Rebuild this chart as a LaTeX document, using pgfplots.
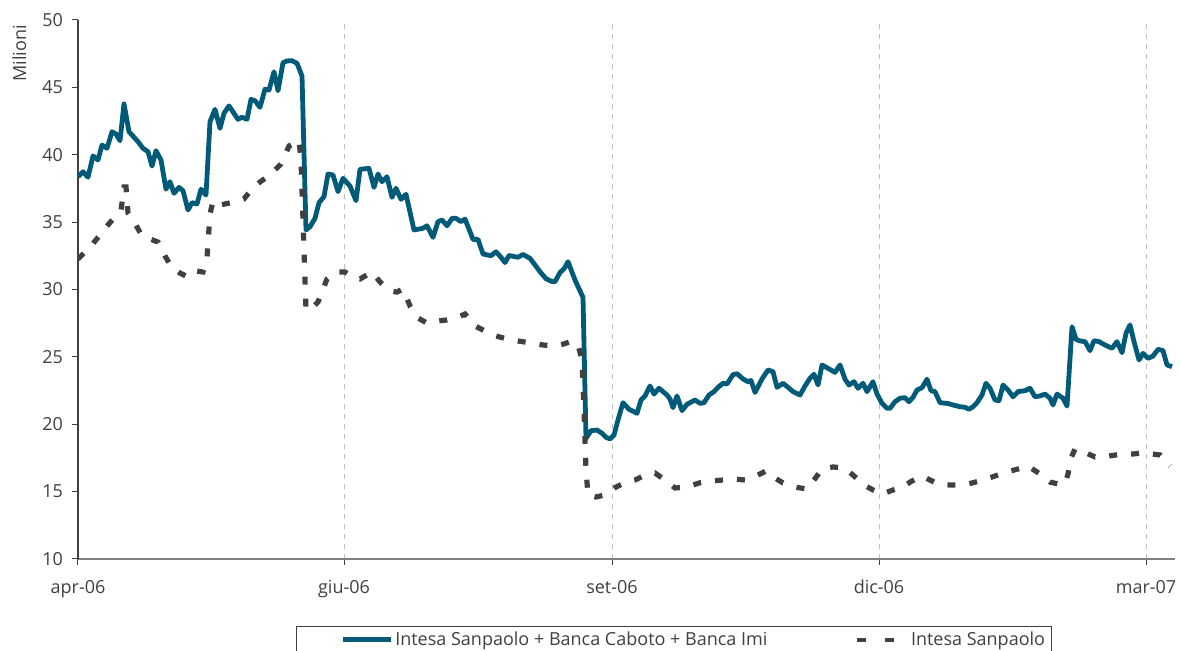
\documentclass[border=0pt]{standalone}
\usepackage{pgfplots}
\pgfplotsset{compat=1.18}
\usepackage{fontspec}
\setmainfont{Open Sans}
\definecolor{isblue}{RGB}{0,90,120}
\definecolor{isgray}{RGB}{64,64,64}
\definecolor{gridgray}{RGB}{191,191,191}

\pgfplotsset{
  legsolid/.style={legend image code/.code={\path (0pt,0pt); \draw[##1] (20pt,0pt) -- (44pt,0pt);}},
  legdash/.style={legend image code/.code={\draw[##1, line width=1.8pt, dash pattern=on 4.5pt off 9.5pt] (0pt,0pt) -- (20pt,0pt);}},
}

% x = trading-day position along the category axis
\pgfplotstableread{
x v
0 38.37
5 38.74
10 38.33
15 39.91
20 39.61
24 40.72
29 40.48
34 41.71
38 41.54
42 41.04
46 43.77
51 41.71
60 40.97
65 40.48
70 40.23
74 39.16
78 40.30
83 39.61
88 37.44
92 38.00
96 37.14
101 37.58
105 37.33
110 35.90
114 36.44
119 36.35
123 37.44
128 37.01
132 42.45
137 43.37
142 41.96
146 43.08
151 43.62
160 42.63
164 42.78
169 42.63
173 44.11
177 44.01
182 43.52
187 44.86
191 44.80
196 46.16
200 44.75
205 46.83
209 46.96
214 46.98
219 46.79
224 45.84
228 34.42
232 34.66
237 35.28
241 36.44
246 36.89
250 38.57
255 38.50
260 37.26
265 38.25
272 37.68
278 36.59
282 38.92
291 38.99
296 37.58
300 38.57
304 38.00
309 38.37
314 36.84
318 37.51
323 36.69
328 37.06
336 34.42
345 34.54
349 34.73
355 33.87
360 35.03
364 35.16
369 34.73
374 35.28
378 35.28
383 35.03
387 35.23
395 33.72
400 33.72
405 32.63
413 32.51
418 32.80
423 32.39
427 32.00
431 32.52
440 32.39
445 32.60
452 32.31
457 31.82
462 31.32
468 30.80
474 30.59
477 30.58
482 31.26
486 31.54
490 32.06
497 30.70
505 29.41
508 18.96
513 19.52
519 19.57
524 19.33
528 19.03
532 18.91
536 19.20
540 20.32
545 21.60
551 21.11
559 20.81
563 21.80
567 22.10
572 22.84
576 22.24
581 22.67
589 22.17
592 21.87
595 21.23
599 22.10
604 21.01
609 21.48
617 21.80
622 21.55
626 21.60
631 22.17
636 22.42
640 22.74
645 23.04
649 22.99
655 23.68
659 23.75
665 23.36
670 23.16
673 23.25
677 22.36
684 23.36
690 24.03
695 23.90
699 22.74
705 23.04
710 22.74
715 22.42
722 22.17
727 22.84
732 23.41
736 23.71
740 22.91
744 24.40
750 24.15
757 23.85
762 24.40
767 23.34
771 22.91
776 23.16
780 22.67
785 23.04
789 22.42
795 23.16
799 22.24
804 21.55
809 21.18
812 21.18
817 21.67
822 21.93
827 21.97
831 21.67
835 22.00
839 22.54
844 22.71
849 23.34
853 22.49
857 22.42
862 21.60
870 21.54
875 21.43
882 21.30
887 21.26
891 21.11
895 21.30
899 21.60
904 22.17
908 23.04
912 22.67
917 21.80
921 21.75
925 22.91
930 22.54
935 22.04
940 22.42
947 22.49
952 22.67
957 22.04
962 22.10
967 22.24
972 21.93
975 21.43
979 22.24
985 21.93
989 21.35
994 27.24
998 26.30
1002 26.18
1007 26.13
1012 25.46
1016 26.20
1021 26.13
1027 25.88
1034 25.64
1039 26.13
1044 25.31
1048 26.75
1052 27.37
1056 26.13
1061 24.77
1065 25.26
1070 24.89
1075 25.06
1080 25.56
1085 25.46
1089 24.40
1094 24.27
}\gruppo

\pgfplotstableread{
x v
0 32.26
12 33.15
22 34.04
29 34.71
36 35.31
43 35.83
46 37.61
48 37.61
50 35.68
54 35.31
64 33.97
72 33.75
80 33.52
87 32.49
94 31.60
102 31.22
110 30.93
118 31.37
125 31.30
129 32.34
132 35.60
135 36.57
142 36.27
156 36.49
166 36.72
173 37.38
182 37.98
192 38.50
203 39.31
211 40.65
217 40.87
221 41.09
223 39.61
228 28.48
233 28.55
240 29.07
249 30.78
258 31.30
267 31.30
274 30.93
282 30.78
294 31.30
302 30.56
312 29.89
319 29.81
325 30.04
332 28.78
340 27.88
349 27.51
359 27.66
369 27.74
378 27.88
387 28.18
397 27.29
407 26.92
418 26.55
429 26.33
440 26.18
453 26.03
465 25.88
477 25.81
486 25.96
494 26.18
500 25.88
504 24.77
506 21.06
508 16.60
510 14.75
518 14.60
527 14.75
538 15.34
548 15.71
557 15.86
567 16.23
577 16.38
587 15.86
597 15.27
609 15.34
621 15.64
633 15.79
645 15.86
656 15.94
667 15.86
678 16.16
688 16.53
697 16.01
705 15.64
717 15.34
729 15.19
736 15.86
744 16.68
755 16.83
767 16.75
776 16.16
786 15.49
795 15.12
804 14.82
815 15.12
826 15.42
834 15.79
844 16.16
852 15.86
860 15.57
872 15.49
884 15.49
894 15.64
905 15.86
917 16.16
929 16.46
940 16.68
950 16.90
962 16.31
972 15.71
980 15.57
987 15.57
990 16.31
993 17.50
997 18.16
1006 17.94
1017 17.57
1030 17.64
1045 17.79
1055 17.79
1064 17.87
1074 17.79
1082 17.72
1087 17.27
1092 16.90
}\intesa

\begin{document}
\begin{tikzpicture}
\begin{axis}[
  name=ax,
  scale only axis,
  width=548.5pt, height=269.5pt,
  xmin=0, xmax=1097,
  ymin=10, ymax=50,
  axis lines=left,
  axis line style={-},
  x axis line style={gray, line width=0.6pt},
  y axis line style={isgray, line width=0.6pt},
  xtick={0,266,534,801,1068},
  xticklabels={apr-06,giu-06,set-06,dic-06,mar-07},
  ytick={10,15,...,50},
  tick align=outside,
  major tick length=3pt,
  tick style={isgray, line width=0.5pt},
  xmajorgrids,
  grid style={gridgray, dash pattern=on 2.5pt off 2.5pt, line width=0.5pt},
  ticklabel style={font=\fontsize{9}{11}\selectfont, text=isgray},
  /pgf/number format/assume math mode=true,
  yticklabel style={xshift=-1pt},
  xticklabel style={yshift=-4pt},
  legend columns=2,
  legend cell align=left,
  legend style={
    at={(axis description cs:0.1987,-0.1243)},
    anchor=north west,
    draw=isgray, line width=0.5pt,
    inner xsep=2pt, inner ysep=0.5pt,
    font=\fontsize{9}{11}\selectfont,
    text=isgray,
    nodes={inner xsep=1pt, inner ysep=2pt},
    /tikz/column 2/.style={column sep=43pt},
    /tikz/column 3/.style={column sep=5pt},
  },
]
\addplot[isblue, line width=2.4pt, line join=round, legsolid]
  table[x=x, y=v] {\gruppo};
\addlegendentry{Intesa Sanpaolo + Banca Caboto + Banca Imi}

\addplot[isgray, line width=2.6pt, dash pattern=on 4pt off 7pt, legdash]
  table[x=x, y=v] {\intesa};
\addlegendentry{Intesa Sanpaolo}
\end{axis}
\node[rotate=90, anchor=north east, inner sep=0pt, text=isgray,
  font=\fontsize{9}{11}\selectfont]
  at ([xshift=-33pt, yshift=-2.5pt]ax.north west) {Milioni};
\pgfresetboundingbox
\path[use as bounding box] ([xshift=-39pt,yshift=-46pt]ax.south west)
  rectangle ([xshift=3pt,yshift=10pt]ax.north east);
\end{tikzpicture}
\end{document}
